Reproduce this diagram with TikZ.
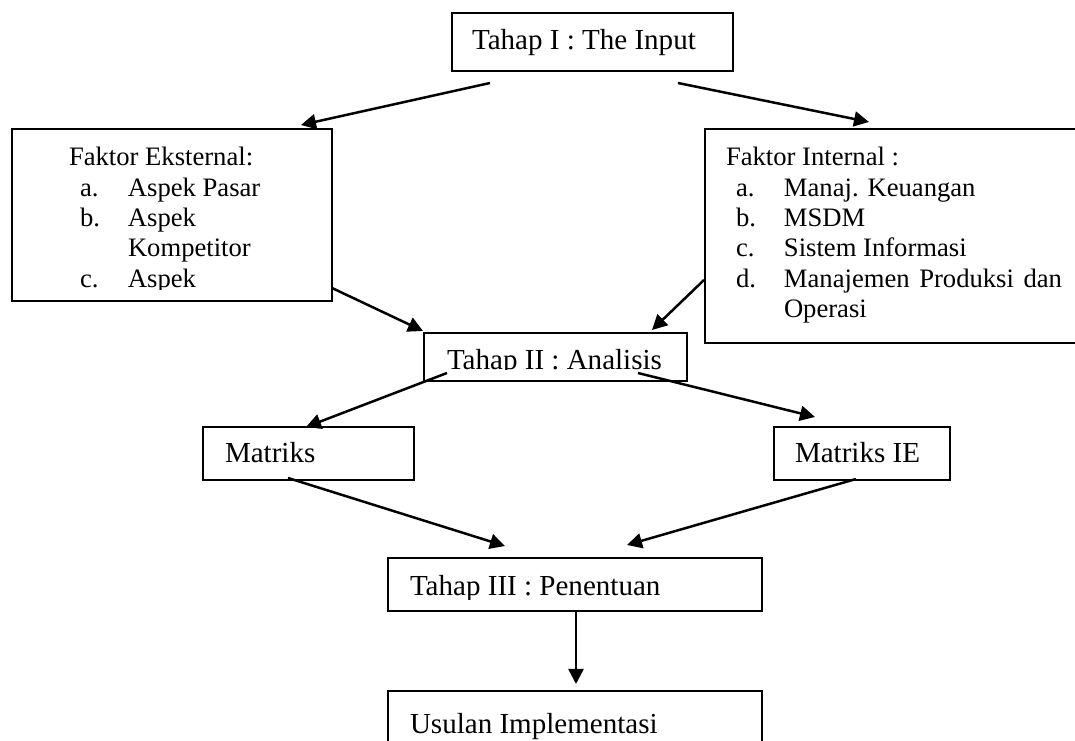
\documentclass[tikz,border=0pt]{standalone}
\usepackage{fontspec}
\setmainfont{Liberation Serif}
\usetikzlibrary{arrows.meta,calc,positioning}
\newlength{\upx}
\setlength{\upx}{0.41308pt}
\newcommand{\butir}[3]{\hbox{\hspace*{#1\upx}\makebox[48\upx][l]{#2}#3}}

\tikzset{
  kotak/.style 2 args={draw, line width=0.83pt, rectangle, anchor=north west,
    inner sep=0pt, outer sep=0pt, minimum width=#1\upx, minimum height=#2\upx},
  isi/.style n args={3}{path picture={
    \clip (path picture bounding box.north west) rectangle ($(path picture bounding box.south east)+(0,-11)$);
    \node[anchor=base west, inner sep=0pt, minimum width=0pt, minimum height=0pt,
      draw=none, font=\fontsize{12}{14}\selectfont]
      at ($(path picture bounding box.north west)+(#1,#2)$) {#3};}},
  panah/.style={-{Triangle[length=6.2pt,width=6.2pt]}, line width=1.03pt}
}

\begin{document}
\begin{tikzpicture}[x=0.41308pt,y=-0.41308pt]
\useasboundingbox (0,0) rectangle (1075,741);
\clip (0,0) rectangle (1075,741);
% tahap I
\node[kotak={281}{58}, isi={20}{37}{Tahap I : The Input}] (t1) at (452,13) {};
% faktor eksternal / internal
\node[kotak={320}{172}, isi={57}{37}{\vtop{\fontsize{11}{12.52}\selectfont
    \hbox{Faktor Eksternal:}
    \butir{11}{a.}{Aspek Pasar}
    \butir{11}{b.}{Aspek}
    \butir{11}{}{Kompetitor}
    \butir{11}{c.}{Aspek}}}] (ext) at (12,129) {};
\node[kotak={400}{214}, isi={21}{37}{\vtop{\fontsize{11}{12.52}\selectfont
    \hbox{Faktor Internal :}
    \butir{10}{a.}{Manaj. Keuangan}
    \butir{10}{b.}{MSDM}
    \butir{10}{c.}{Sistem Informasi}
    \butir{10}{d.}{\makebox[278\upx][s]{Manajemen Produksi dan}}
    \butir{10}{}{Operasi}}}] (int) at (705,129) {};
% tahap II
\node[kotak={263}{48}, isi={23}{37}{Tahap II : Analisis}] (t2) at (424,333) {};
\node[kotak={211}{53}, isi={22}{36}{Matriks}] (mat) at (203,427) {};
\node[kotak={176}{53}, isi={21}{36}{Matriks IE}] (mie) at (774,427) {};
% tahap III
\node[kotak={374}{53}, isi={22}{38}{Tahap III : Penentuan}] (t3) at (388,558) {};
\node[kotak={374}{80}, isi={22}{42}{Usulan Implementasi}] (us) at (388,691) {};

\draw[panah] ($(t1.south west)+(38,12)$) -- ($(ext.north west)+(289,-4)$);
\draw[panah] ($(t1.south west)+(226,12)$) -- ($(int.north west)+(164,-7)$);
\draw[panah] ($(ext.south east)+(0,-13)$) -- ($(t2.north west)+(-1,-2)$);
\draw[panah] ($(int.north west)+(-1,151)$) -- ($(t2.north east)+(-35,-3)$);
\draw[panah] ($(t2.south west)+(23,-8)$) -- ($(mat.north west)+(103,0)$);
\draw[panah] ($(t2.south east)+(-49,-8)$) -- ($(mie.north west)+(41,-10)$);
\draw[panah] ($(mat.south west)+(85,-2)$) -- ($(t3.north west)+(117,-12)$);
\draw[panah] ($(mie.south west)+(82,-1)$) -- ($(t3.north west)+(239,-13)$);
\draw[panah] ($(t3.south west)+(188,0)$) -- ($(us.north west)+(188,-7)$);
\end{tikzpicture}
\end{document}
